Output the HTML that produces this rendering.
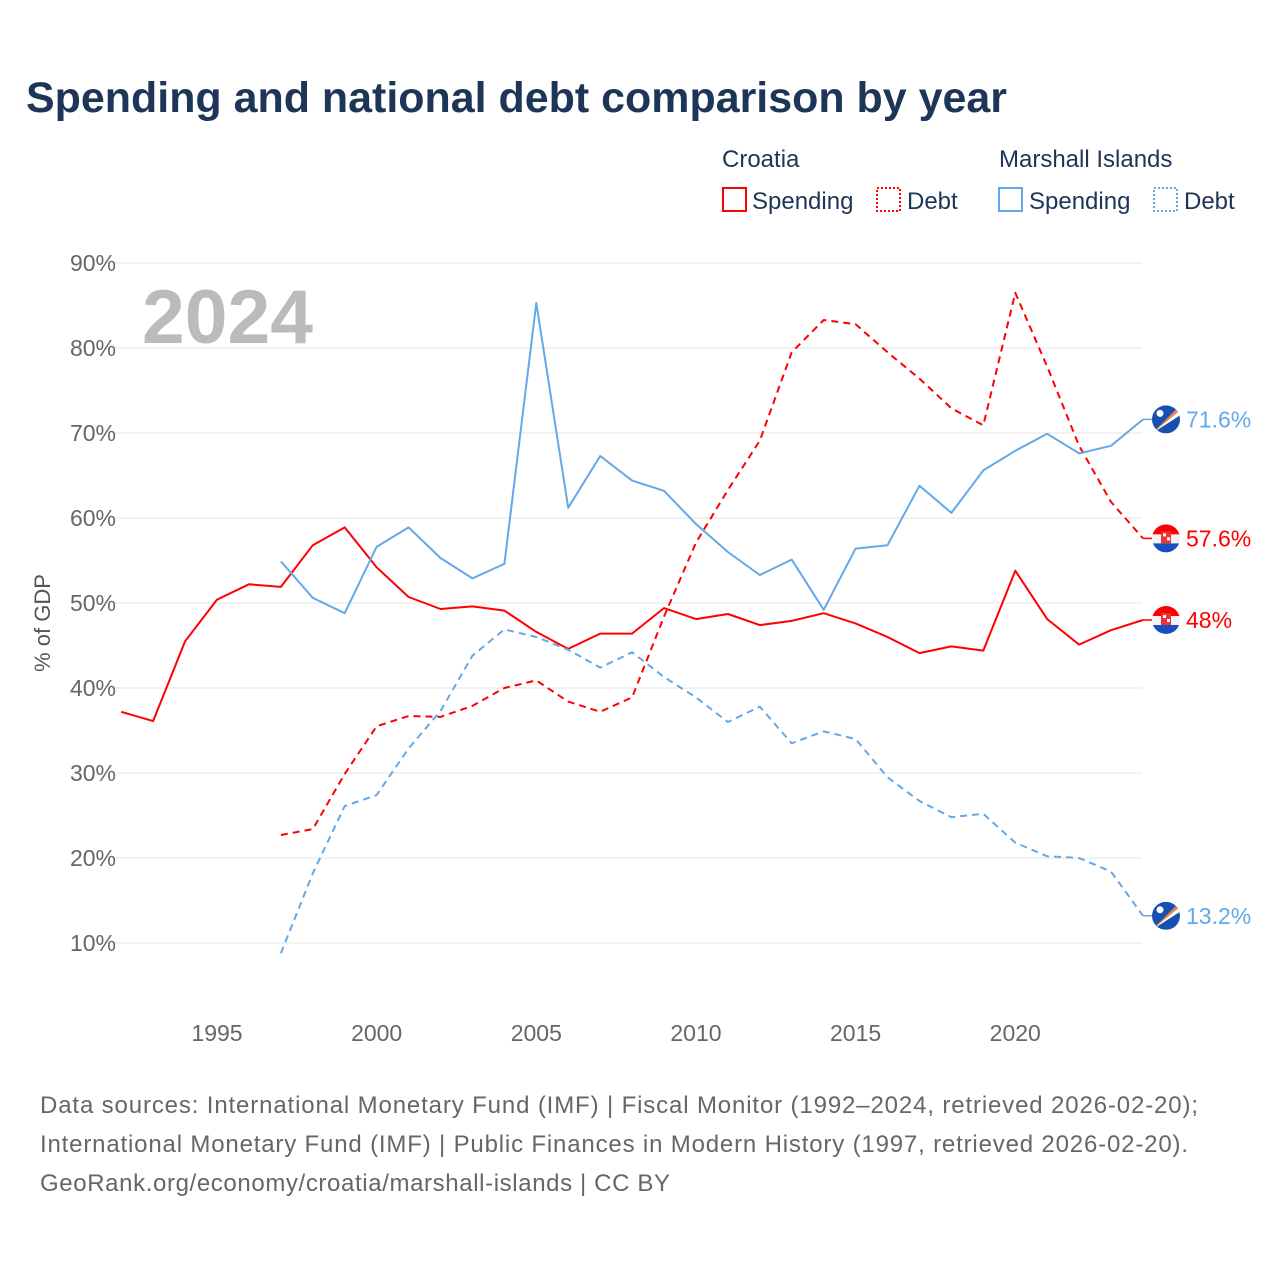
<!DOCTYPE html>
<html><head><meta charset="utf-8">
<style>
body{margin:0;background:#fff;width:1280px;height:1280px;overflow:hidden;font-family:"Liberation Sans",sans-serif}
</style></head>
<body>
<svg id="chart" width="1280" height="1280" xmlns="http://www.w3.org/2000/svg" font-family="Liberation Sans, sans-serif">
<defs>
<clipPath id="fc"><circle cx="0" cy="0" r="14"/></clipPath>
</defs>
<text x="26" y="112" font-size="43" font-weight="bold" fill="#1d3557" textLength="981" lengthAdjust="spacingAndGlyphs">Spending and national debt comparison by year</text>
<g font-size="24" fill="#1d3557">
<text x="722" y="167">Croatia</text>
<text x="999" y="167">Marshall Islands</text>
<rect x="723" y="188" width="23" height="23" fill="none" stroke="#ff0000" stroke-width="2"/>
<text x="752" y="209">Spending</text>
<rect x="877" y="188" width="23" height="23" fill="none" stroke="#ff0000" stroke-width="2" stroke-dasharray="2,2"/>
<text x="907" y="209">Debt</text>
<rect x="999" y="188" width="23" height="23" fill="none" stroke="#63a8ea" stroke-width="2"/>
<text x="1029" y="209">Spending</text>
<rect x="1154" y="188" width="23" height="23" fill="none" stroke="#63a8ea" stroke-width="2" stroke-dasharray="2,2"/>
<text x="1184" y="209">Debt</text>
</g>
<g id="grid"></g>
<text x="142" y="343" font-size="76" font-weight="bold" fill="#bbbbbb" textLength="171" lengthAdjust="spacingAndGlyphs">2024</text>
<text transform="translate(50,623) rotate(-90)" text-anchor="middle" font-size="22" fill="#555">% of GDP</text>
<g id="series"></g>
<g id="labels"></g>
<g font-size="24" fill="#666">
<text x="40" y="1113" textLength="1158">Data sources: International Monetary Fund (IMF) | Fiscal Monitor (1992–2024, retrieved 2026-02-20);</text>
<text x="40" y="1152" textLength="1148">International Monetary Fund (IMF) | Public Finances in Modern History (1997, retrieved 2026-02-20).</text>
<text x="40" y="1191" textLength="630">GeoRank.org/economy/croatia/marshall-islands | CC BY</text>
</g>
</svg>
<script>
const yTicks=[10,20,30,40,50,60,70,80,90];
const xTicks=[1995,2000,2005,2010,2015,2020];
const hrYears=[1992,1993,1994,1995,1996,1997,1998,1999,2000,2001,2002,2003,2004,2005,2006,2007,2008,2009,2010,2011,2012,2013,2014,2015,2016,2017,2018,2019,2020,2021,2022,2023,2024];
const hrSpending=[37.2,36.1,45.5,50.4,52.2,51.9,56.8,58.9,54.2,50.7,49.3,49.6,49.1,46.6,44.6,46.4,46.4,49.4,48.1,48.7,47.4,47.9,48.8,47.6,46.0,44.1,44.9,44.4,53.8,48.1,45.1,46.8,48.0];
const yrs97=[1997,1998,1999,2000,2001,2002,2003,2004,2005,2006,2007,2008,2009,2010,2011,2012,2013,2014,2015,2016,2017,2018,2019,2020,2021,2022,2023,2024];
const hrDebt=[22.7,23.4,29.9,35.5,36.7,36.6,37.9,40.0,40.9,38.4,37.2,38.9,48.4,57.1,63.3,69.1,79.5,83.3,82.8,79.5,76.4,72.9,70.9,86.5,77.8,68.5,61.9,57.6];
const mhSpending=[54.9,50.6,48.8,56.6,58.9,55.3,52.9,54.6,85.3,61.2,67.3,64.4,63.2,59.3,56.0,53.3,55.1,49.2,56.4,56.8,63.8,60.6,65.6,67.9,69.9,67.6,68.5,71.6];
const mhDebt=[8.8,18.2,26.1,27.4,32.9,37.3,43.8,46.9,46.0,44.5,42.4,44.2,41.3,38.9,36.0,37.8,33.5,34.9,34.0,29.5,26.7,24.8,25.2,21.8,20.2,20.0,18.4,13.2];

const NS="http://www.w3.org/2000/svg";
function X(yr){return 217+(yr-1995)*31.93;}
function Y(v){return 943-(v-10)*8.5;}
function mk(tag,attrs,parent){const e=document.createElementNS(NS,tag);for(const k in attrs)e.setAttribute(k,attrs[k]);parent.appendChild(e);return e;}
const grid=document.getElementById('grid');
yTicks.forEach(t=>{
  const l=mk('line',{x1:112,x2:1142,y1:Y(t),y2:Y(t),stroke:'#e6e6e6','stroke-width':1},grid);
  
  
  const tx=mk('text',{x:116,y:Y(t)+8,'text-anchor':'end','font-size':23,fill:'#666'},grid);
  tx.textContent=t+'%';
  
  
});
xTicks.forEach(t=>{
  const tx=mk('text',{x:X(t),y:1041,'text-anchor':'middle','font-size':23,fill:'#666'},grid);
  tx.textContent=t;
  
  
});
const S=document.getElementById('series');
function line(years,vals,color,dash,name){
  const d=years.map((y,i)=>(i?'L':'M')+X(y).toFixed(1)+','+Y(vals[i]).toFixed(1)).join(' ');
  const p=mk('path',{d:d,fill:'none',stroke:color,'stroke-width':2,'stroke-dasharray':dash||'none','stroke-linejoin':'round'},S);
  
  
}
line(hrYears,hrSpending,'#ff0000',null,'croatia-spending-line');
line(yrs97,hrDebt,'#ff0000','7,5','croatia-debt-line');
line(yrs97,mhSpending,'#63a8ea',null,'marshall-spending-line');
line(yrs97,mhDebt,'#63a8ea','7,5','marshall-debt-line');

const L=document.getElementById('labels');
function flag(type,v,color,name){
  const cx=1166,cy=Y(v);
  mk('line',{x1:1143,x2:1152,y1:cy,y2:cy,stroke:color,'stroke-width':1.5},L);
  const g=mk('g',{transform:`translate(${cx},${cy})`,'clip-path':'url(#fc)'},L);
  
  
  if(type==='hr'){
    mk('rect',{x:-14,y:-14,width:28,height:10,fill:'#ff0000'},g);
    mk('rect',{x:-14,y:-4,width:28,height:9,fill:'#f4f4f4'},g);
    mk('rect',{x:-14,y:5,width:28,height:10,fill:'#1650c0'},g);
    mk('rect',{x:-5,y:-7,width:10,height:12,fill:'#e33'},g);
    mk('rect',{x:-3,y:-5,width:3,height:3,fill:'#fff'},g);
    mk('rect',{x:1,y:-1,width:3,height:3,fill:'#fff'},g);
  }else{
    mk('rect',{x:-14,y:-14,width:28,height:28,fill:'#1650b0'},g);
    mk('polygon',{points:'-14,14 14,-14 14,-9 -14,14',fill:'#f08040'},g);
    mk('polygon',{points:'-14,14 14,-9 14,-4 -14,14',fill:'#ffffff'},g);
    mk('circle',{cx:-6,cy:-6,r:3.5,fill:'#fff'},g);
  }
  const t=mk('text',{x:1186,y:cy+8,'font-size':23,fill:color},L);
  t.textContent=(Math.round(v*10)/10)+'%';
  
  
}
flag('mh',mhSpending[mhSpending.length-1],'#63a8ea','marshall-spending');
flag('hr',hrDebt[hrDebt.length-1],'#ff0000','croatia-debt');
flag('hr',hrSpending[hrSpending.length-1],'#ff0000','croatia-spending');
flag('mh',mhDebt[mhDebt.length-1],'#63a8ea','marshall-debt');
</script>
</body></html>
